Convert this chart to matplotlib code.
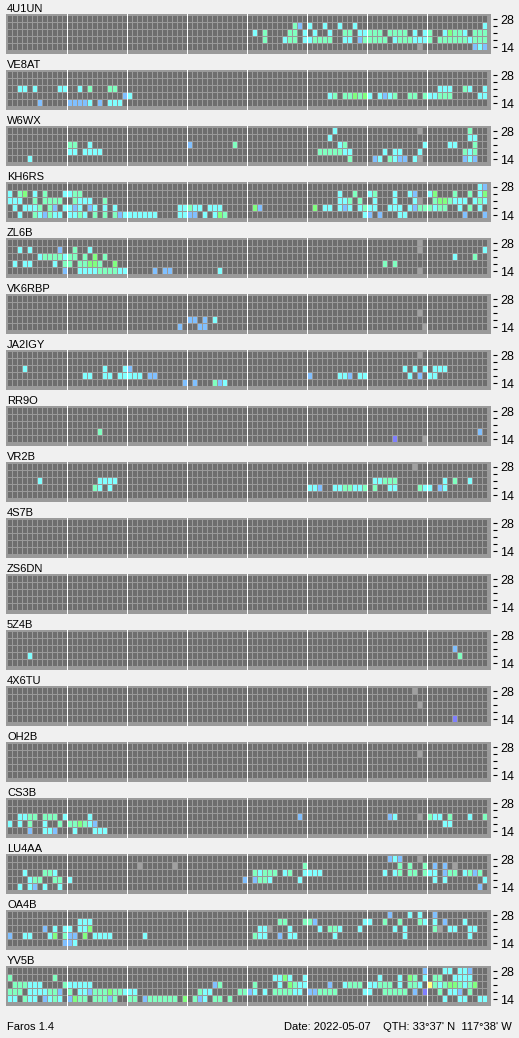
import matplotlib
matplotlib.use("Agg")
import matplotlib.pyplot as plt
from matplotlib.patches import Rectangle
from matplotlib.collections import PatchCollection

plt.rcParams["font.family"] = ["Liberation Sans", "DejaVu Sans"]

STATIONS = ["4U1UN", "VE8AT", "W6WX", "KH6RS", "ZL6B", "VK6RBP", "JA2IGY", "RR9O", "VR2B",
            "4S7B", "ZS6DN", "5Z4B", "4X6TU", "OH2B", "CS3B", "LU4AA", "OA4B", "YV5B"]
BAND_LABELS = ["28", "", "", "", "14"]   # rows top->bottom: 28, 24, 21, 18, 14 MHz
SLOTS = 96                               # 15 min slots, 24 h

# each station: 5 rows (28/24/21/18/14), items are "slot + colour code"
S_4U1UN = ["",
           "57A 58B 60C 63C 66C 69C 95C",
           "49C 51A 56A 57A 59C 61C 64C 67A 68A 70C 71C 72A 73A 74A 76A 77A 78A 79A 81C 83C 84A 87C 88G 89A 90A 91C 93A 94A 95A",
           "51A 55C 56A 57A 59C 60C 61A 62A 63A 64A 67C 68C 70B 71A 72A 73A 74A 75A 77C 78A 79A 80A 81C 82C 83C 84A 86A 87A 88A 89A 90A 91A 92C 93A 94A 95A",
           "82L 93B 94C 95B"]
S_VE8AT = ["",
           "",
           "2C 3C 5C 10C 11C 14C 16A 20A 21A 86C 87C 88C 91A 92C 95C",
           "23B 24C 64C 65A 67A 68A 69G 70A 71G 72C 74C 75B 76C 77A 80A 81A 83A 84C 85C 86A 87A 88A 94C 95C",
           "6B 12B 13B 14B 15B 16C 18B 20C 21C 22C"]
S_W6WX = ["65C 82L 92A",
          "64C 92C 93C",
          "12A 13A 16C 36B 45A 66C 67A 83C 88C 89C 93A",
          "12C 13C 15C 16C 17C 18C 62A 63A 64A 65A 66A 67C 68C 75C 77C 78C 82C 91A 92C 93A",
          "4C 68A 73B 74C 76A 77C 78B 79B 81C 82L 91B 92C 93B"]
S_KH6RS = ["94C 95B",
           "0C 2A 3G 5C 7A 11C 12C 13A 14A 66C 69A 72C 73A 77C 80C 81B 84C 85G 89A 92A 94C 95G",
           "0C 1C 2C 5A 7A 8A 9A 10A 13A 14C 15C 16C 19A 66C 67C 68A 70A 73C 77C 81C 82L 85A 86G 87G 88A 89C 90C 91C 93C 94A 95C",
           "1C 3C 4C 5C 6A 8A 9B 11C 12C 13B 14C 16B 17C 19C 21C 34C 35C 36A 37C 38C 40C 41C 42C 49G 50B 61G 63C 64C 66C 67B 68C 70C 71A 72C 73C 76C 77C 78C 80C 81B 82A 83A 84A 85C 86A 87A 90C 92A 94C",
           "2C 5A 6C 7B 8A 9C 10C 12C 13C 14A 15C 17A 19A 21A 22B 23C 24C 25C 26C 27C 28C 29C 34C 35C 36B 37B 39C 41C 42G 43A 71C 72B 74B 78C 79C 91B 95B"]
S_ZL6B = ["82L",
          "2C 4C 10B 13A 16C 82L 95C",
          "6C 7A 8A 9A 10A 11C 12A 13A 15A 17G 19A 89C 93A",
          "1C 3C 4C 9C 11A 12A 14A 15A 16G 17G 18A 21G 75A 77A",
          "11B 14C 15C 16C 17C 18A 19A 20A 21A 22C 23C 29B 31B 32B 42C 82L"]
S_VK6RBP = ["", "", "82L", "36B 37B 39B 41C", "34B 38B 39B 83L"]
S_JA2IGY = ["82L",
            "",
            "3C 19C 23C 24B 79C 81C 83C 85C 86C 87C",
            "15C 16C 19C 20C 22C 23C 24C 25C 26C 28B 29B 60B 66C 67C 68B 70C 71C 80C 82B 84C 85C",
            "35B 37B 41A 42B 43C"]
S_RR9O = ["", "", "", "18A 94B", "77P 83L"]
S_VR2B = ["81L",
          "",
          "6C 18C 19C 20C 21C 73C 74C 75A 76A 77A 87C 89A 92C",
          "17A 18C 20C 60C 61C 62B 65C 66C 67A 68A 69C 70C 71A 73A 76C 77C 82A 83C 84C 86B 87C",
          ""]
S_4S7B = ["", "", "", "", ""]
S_ZS6DN = ["", "", "", "", ""]
S_5Z4B = ["", "", "89B", "4C 90A", ""]
S_4X6TU = ["81L", "", "82L", "", "89P"]
S_OH2B = ["", "82L", "", "", ""]
S_CS3B = ["",
          "",
          "2C 3C 4A 5A 7A 8A 9A 11C 16C 58B 76B 77C 82L 84A 85C 86C 88A 92C 95A",
          "0C 2C 4A 7C 10A 12A 13A 14G 15A 16C 17B 87C 88C",
          "4B 7C 8C 9B 13C 17C 18C 19C"]
S_LU4AA = ["76B 77C 78B 82L",
           "26L 33L 59A 78A 80A 83A 85B 87B 89L",
           "3C 7A 8A 9C 49A 50C 51A 52A 53A 55C 56A 59C 60C 61C 62C 75C 77C 78A 80A 81A 83A 84C 85C 87B 88A 89A 91C 92A 93B 94A",
           "4C 5A 6A 9A 10A 12C 47B 49B 50A 51A 52C 58C 85C 87C 95C",
           "2C 4C 5B 7C 10C 94B"]
S_OA4B = ["76B 80C 82C 85B",
          "14C 15C 16C 54A 55A 59A 60A 61B 71C 72C 75A 78A 82A 83C 85C 87B 91C",
          "7B 9C 11C 12C 14C 15C 16G 50C 51C 52L 56C 62C 64A 65A 66C 70C 77C 79C 85A 86L 88C 89C 92C 93C",
          "0B 3C 4C 8C 9G 11A 12B 13B 15G 17C 18C 19C 20C 27C 49A 50C 51C 54B 56C 57C 65C 79C 92C",
          "11B 12B 13C"]
S_YV5B = ["83B 87C 88C 90C 91C 92B",
          "0A 9A 53C 54C 55G 56C 59C 74C 78C 80G 81A 83C 85A 86A 89C 90C 91C 92C",
          "1A 2A 3A 4C 5C 6C 11A 12C 13C 14C 15C 16C 41B 42A 49A 54C 56G 57A 58C 59C 64B 67C 68A 69A 70A 72C 73C 74A 75A 76A 78C 80A 81A 82C 84Y 85A 86C 87A 88G 89G 90A 91C 92A 93G",
          "0A 1A 2A 4C 5C 6C 7C 8A 9A 10B 12A 14C 15C 16B 17A 18A 19A 20G 21A 22A 23C 24C 25C 38A 39C 40C 46A 47A 48B 49C 51C 53A 54A 55A 56A 57C 58C 60B 61B 62A 63A 64A 65A 71C 72C 75A 76A 77A 78A 79A 81B 83P 86A 88C 89C 90B 92A",
          "0C 1C 3A 4C 5C 7B 8C 9A 10C 12B 13G 14A 15A 17A 18A 19A 20B 21A 24A 25A 27B 28A 29A 30A 31A 32A 33A 35G 37A 38B 39C 41A 42A 44A 87C 90C 91C 94C 95C"]

SPOTS = [S_4U1UN, S_VE8AT, S_W6WX, S_KH6RS, S_ZL6B, S_VK6RBP, S_JA2IGY, S_RR9O, S_VR2B,
         S_4S7B, S_ZS6DN, S_5Z4B, S_4X6TU, S_OH2B, S_CS3B, S_LU4AA, S_OA4B, S_YV5B]

COLOURS = {"C": "#80ffff", "A": "#80ffc0", "B": "#80c0ff", "G": "#80ff80",
           "P": "#8080ff", "Y": "#ffff80", "L": "#a0a0a0"}
EMPTY = "#6e6e6e"
FRAME = "#9a9a9a"
BG = "#f0f0f0"

W, H = 519, 1038
fig = plt.figure(figsize=(W / 100, H / 100), dpi=100, facecolor=BG)


def px(x0, y0, w, h):
    return [x0 / W, 1 - (y0 + h) / H, w / W, h / H]


for k, name in enumerate(STATIONS):
    top = 14 + 56 * k
    ax = fig.add_axes(px(6, top, 485, 40))
    ax.set_facecolor(FRAME)
    ax.set_xlim(-0.4, SLOTS + 0.6)
    ax.set_ylim(38 / 7, -2 / 7)

    filled = {}
    for r, row in enumerate(SPOTS[k]):
        for item in row.split():
            filled[(r, int(item[:-1]))] = COLOURS[item[-1]]
    rects, cols = [], []
    for r in range(5):
        for c in range(SLOTS):
            rects.append(Rectangle((c, r), 0.8, 6 / 7))
            cols.append(filled.get((r, c), EMPTY))
    ax.add_collection(PatchCollection(rects, facecolors=cols, edgecolors="none",
                                      linewidths=0, antialiased=False))
    # 3 hour separators: one white pixel in the gap
    for s in range(1, 8):
        ax.add_patch(Rectangle((12 * s - 0.2, -2 / 7), 0.2, 40 / 7, facecolor="white",
                               edgecolor="none", lw=0, antialiased=False))

    ax.set_xticks([])
    ax.yaxis.tick_right()
    ax.set_yticks([r + 3 / 7 for r in range(5)])
    ax.set_yticklabels(BAND_LABELS)
    ax.tick_params(axis="y", length=3.2, width=0.8, pad=2, labelsize=9, colors="black")
    for sp in ax.spines.values():
        sp.set_visible(False)
    ax.spines["right"].set_position(("outward", 1.5))

    fig.text(7 / W, 1 - (top - 2) / H, name, fontsize=8, va="baseline")

fig.text(7 / W, 1 - 1030 / H, "Faros 1.4", fontsize=8, va="baseline")
fig.text(512 / W, 1 - 1030 / H, "Date: 2022-05-07    QTH: 33\u00b037' N  117\u00b038' W",
         fontsize=8, va="baseline", ha="right")

fig.savefig("out.png", dpi=100, facecolor=BG)
